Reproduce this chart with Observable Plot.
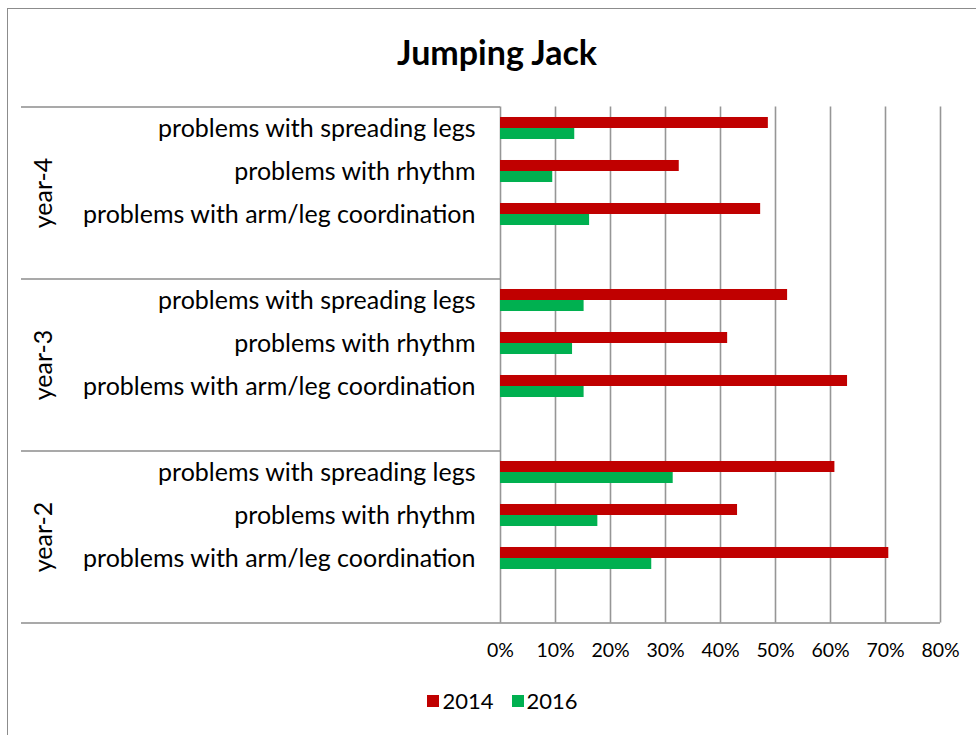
<!DOCTYPE html>
<html>
<head>
<meta charset="utf-8">
<script src="https://cdn.jsdelivr.net/npm/d3@7"></script>
<script src="https://cdn.jsdelivr.net/npm/@observablehq/plot@0.6"></script>
<style>
  body { margin: 0; background: #fff; }
  #wrap { position: relative; width: 976px; height: 735px; overflow: hidden; background: #fff; font-family: Lato, "Open Sans", sans-serif; color: #000; }
  #border { position: absolute; left: 7px; top: 8px; width: 1200px; height: 1200px; border: 1.6px solid #8c8c8c; box-sizing: border-box; }
  #chart { position: absolute; left: 0; top: 0; }
  #title { position: absolute; left: 0; top: 32px; width: 994px; text-align: center; font-weight: 700; font-size: 34px; line-height: 40px; }
  #legend { position: absolute; left: 0; top: 688px; width: 1005px; display: flex; justify-content: center; font-size: 22px; line-height: 26px; }
  .item { display: flex; align-items: center; margin: 0 9px; }
  .sw { width: 12px; height: 12px; margin-right: 3px; }
</style>
</head>
<body>
<div id="wrap">
  <div id="border"></div>
  <div id="chart"></div>
  <div id="title">Jumping Jack</div>
  <div id="legend"></div>
</div>
<script>
// ---- data ----
const groups = ["year-4", "year-3", "year-2"];
const categories = ["problems with spreading legs", "problems with rhythm", "problems with arm/leg coordination"];
const seriesNames = ["2014", "2016"];
const seriesColors = ["#C00000", "#00B050"];
const year4_2014 = [0.487, 0.325, 0.473];
const year4_2016 = [0.135, 0.095, 0.162];
const year3_2014 = [0.522, 0.413, 0.631];
const year3_2016 = [0.152, 0.131, 0.152];
const year2_2014 = [0.608, 0.431, 0.706];
const year2_2016 = [0.314, 0.177, 0.275];
const xTicks = [0, 0.1, 0.2, 0.3, 0.4, 0.5, 0.6, 0.7, 0.8];

// ---- build table ----
const valuesByGroup = {
  "year-4": [year4_2014, year4_2016],
  "year-3": [year3_2014, year3_2016],
  "year-2": [year2_2014, year2_2016]
};
const slotsPerGroup = categories.length + 1; // Excel leaves one blank row per group
const totalSlots = groups.length * slotsPerGroup;
const rows = [];
const labelRows = [];
groups.forEach((g, gi) => {
  categories.forEach((c, ci) => {
    const slot = gi * slotsPerGroup + ci;
    labelRows.push({group: g, category: c, slot});
    seriesNames.forEach((s, si) => {
      rows.push({group: g, category: c, series: s, si, slot, value: valuesByGroup[g][si][ci]});
    });
  });
});
const boundaries = groups.map((g, gi) => gi * slotsPerGroup);

// ---- layout ----
const W = 976, H = 735;
const mLeft = 500, mRight = 36, mTop = 106.5, mBottom = 112.5;
const xMax = 0.8;
const pxPerUnit = (W - mLeft - mRight) / xMax;
const labelAreaLeft = 21; // px where category-axis lines start
const xLeftEdge = -(mLeft - labelAreaLeft) / pxPerUnit;
const barH = 0.256; // fraction of a slot per bar

const chart = Plot.plot({
  width: W,
  height: H,
  marginLeft: mLeft,
  marginRight: mRight,
  marginTop: mTop,
  marginBottom: mBottom,
  x: {domain: [0, xMax], axis: null},
  y: {domain: [0, totalSlots], reverse: true, axis: null},
  color: {domain: seriesNames, range: seriesColors},
  style: {fontFamily: "Lato, 'Open Sans', sans-serif", background: "transparent", overflow: "visible"},
  marks: [
    Plot.ruleX(xTicks, {x: d => d, y1: 0, y2: totalSlots, stroke: "#969696", strokeWidth: 1.6}),
    Plot.rect(rows, {
      x1: 0, x2: "value",
      y1: d => d.slot + 0.5 - barH + d.si * barH,
      y2: d => d.slot + 0.5 + d.si * barH,
      fill: "series", inset: 0
    }),
    Plot.ruleY(boundaries, {y: d => d, x1: xLeftEdge, x2: 0, stroke: "#8c8c8c", strokeWidth: 1.6}),
    Plot.ruleY([totalSlots], {y: d => d, x1: xLeftEdge, x2: xMax, stroke: "#8c8c8c", strokeWidth: 1.6}),
    Plot.text(labelRows, {x: 0, y: d => d.slot + 0.5, text: "category", textAnchor: "end", dx: -25, fontSize: 25, fill: "#000"}),
    Plot.text(groups, {x: 0, y: (d, i) => i * slotsPerGroup + slotsPerGroup / 2, text: d => d, rotate: -90, dx: -457, fontSize: 25, fill: "#000"}),
    Plot.text(xTicks, {x: d => d, y: totalSlots, text: d => d3.format(".0%")(d), dy: 27.5, fontSize: 19.5, fill: "#000"})
  ]
});
document.getElementById("chart").appendChild(chart);

// ---- legend ----
const legend = document.getElementById("legend");
seriesNames.forEach((s, i) => {
  const item = document.createElement("div");
  item.className = "item";
  const sw = document.createElement("span");
  sw.className = "sw";
  sw.style.background = seriesColors[i];
  const t = document.createElement("span");
  t.textContent = s;
  item.appendChild(sw);
  item.appendChild(t);
  legend.appendChild(item);
});
</script>
</body>
</html>
